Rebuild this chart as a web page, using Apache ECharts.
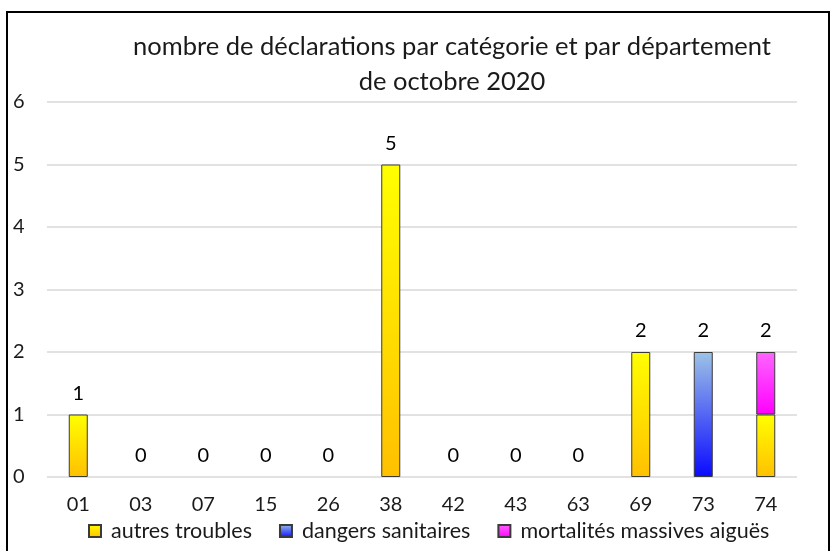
<!DOCTYPE html>
<html>
<head>
<meta charset="utf-8">
<script src="https://cdn.jsdelivr.net/npm/echarts@6/dist/echarts.min.js"></script>
<style>
  html, body { margin: 0; padding: 0; background: #fff; }
  #chart { width: 835px; height: 551px; }
</style>
</head>
<body>
<div id="chart"></div>
<script>
// départements
var departements = ['01', '03', '07', '15', '26', '38', '42', '43', '63', '69', '73', '74']
var autresTroubles = [1, 0, 0, 0, 0, 5, 0, 0, 0, 2, 0, 1]
var dangersSanitaires = [0, 0, 0, 0, 0, 0, 0, 0, 0, 0, 2, 0]
var mortalitesMassives = [0, 0, 0, 0, 0, 0, 0, 0, 0, 0, 0, 1]
var yTicks = [0, 1, 2, 3, 4, 5, 6]

// total par département, pour l'étiquette au-dessus de la barre
var totaux = departements.map(function (d, i) {
  return autresTroubles[i] + dangersSanitaires[i] + mortalitesMassives[i]
})

// les valeurs nulles ne doivent pas dessiner de barre (sinon un trait de bordure)
function sansZero(arr) {
  return arr.map(function (v) { return v === 0 ? '-' : v })
}

var font = 'Lato, "Open Sans", sans-serif'

function grad(top, bottom) {
  return new echarts.graphic.LinearGradient(0, 0, 0, 1, [
    { offset: 0, color: top },
    { offset: 1, color: bottom }
  ])
}

var myChart = echarts.init(document.getElementById('chart'))
var option = {
  animation: false,
  textStyle: { fontFamily: font },
  title: {
    text: 'nombre de déclarations par catégorie et par département\nde octobre 2020',
    left: 447,
    textAlign: 'center',
    top: 24,
    textStyle: { fontSize: 25.5, fontWeight: 'normal', color: '#1a1a1a', lineHeight: 35, fontFamily: font }
  },
  graphic: [{
    type: 'rect',
    shape: { x: 7, y: 12, width: 822, height: 560 },
    style: { fill: 'none', stroke: '#000', lineWidth: 2 },
    silent: true
  }],
  legend: {
    bottom: 4,
    left: 83,
    icon: 'rect',
    itemWidth: 12,
    itemHeight: 12,
    itemGap: 27,
    textStyle: { fontSize: 21.5, color: '#1a1a1a', fontFamily: font, padding: [0, 0, 0, 5] },
    data: ['autres troubles', 'dangers sanitaires', 'mortalités massives aiguës']
  },
  grid: { left: 47, right: 38, top: 102, bottom: 74, containLabel: false },
  xAxis: {
    type: 'category',
    data: departements,
    axisLine: { show: false },
    axisTick: { show: false },
    axisLabel: { fontSize: 20, color: '#1a1a1a', margin: 18 }
  },
  yAxis: {
    type: 'value',
    min: yTicks[0],
    max: yTicks[yTicks.length - 1],
    interval: 1,
    axisLine: { show: false },
    axisTick: { show: false },
    axisLabel: { fontSize: 20, color: '#1a1a1a', margin: 34, align: 'left' },
    splitLine: { lineStyle: { color: '#d9d9d9', width: 1.5 } }
  },
  series: [
    {
      name: 'autres troubles',
      type: 'bar',
      stack: 'total',
      barWidth: 19,
      data: sansZero(autresTroubles),
      itemStyle: { color: grad('#ffff00', '#ffc000'), borderColor: '#3a3a3a', borderWidth: 1 }
    },
    {
      name: 'dangers sanitaires',
      type: 'bar',
      stack: 'total',
      barWidth: 19,
      data: sansZero(dangersSanitaires),
      itemStyle: { color: grad('#9dc3e6', '#0a0aff'), borderColor: '#3a3a3a', borderWidth: 1 }
    },
    {
      name: 'mortalités massives aiguës',
      type: 'bar',
      stack: 'total',
      barWidth: 19,
      data: sansZero(mortalitesMassives),
      itemStyle: { color: grad('#ff66ff', '#ff00ff'), borderColor: '#3a3a3a', borderWidth: 1 }
    },
    {
      name: 'total',
      type: 'scatter',
      data: totaux,
      symbolSize: 2,
      itemStyle: { color: 'rgba(255,255,255,0)' },
      silent: true,
      label: {
        show: true,
        position: 'top',
        distance: 10,
        fontSize: 20,
        color: '#000',
        opacity: 1,
        fontFamily: font
      }
    }
  ]
}
myChart.setOption(option)
</script>
</body>
</html>
